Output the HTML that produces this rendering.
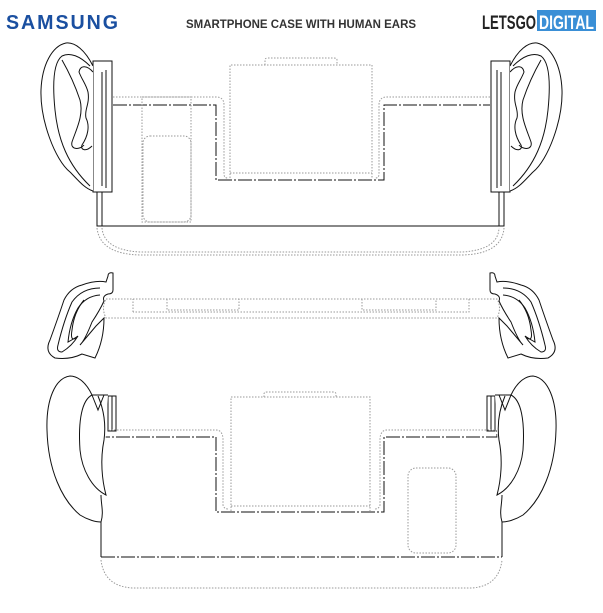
<!DOCTYPE html>
<html><head><meta charset="utf-8"><style>
html,body{margin:0;padding:0;background:#fff;}
svg{display:block}
</style></head><body>
<svg width="603" height="613" viewBox="0 0 603 613" xmlns="http://www.w3.org/2000/svg">
<text x="6" y="29" font-family="Liberation Sans, sans-serif" font-weight="bold" font-size="20" fill="#1a4fa0" textLength="114" lengthAdjust="spacingAndGlyphs" letter-spacing="2">SAMSUNG</text>
<text x="186" y="28" font-family="Liberation Sans, sans-serif" font-weight="bold" font-size="12" fill="#333" textLength="230" lengthAdjust="spacingAndGlyphs">SMARTPHONE CASE WITH HUMAN EARS</text>
<text x="482" y="29" font-family="Liberation Sans, sans-serif" font-weight="bold" font-size="19" fill="#222" textLength="54" lengthAdjust="spacingAndGlyphs">LETSGO</text>
<rect x="537" y="10" width="59" height="21" fill="#3a8fd6"/>
<text x="539" y="29" font-family="Liberation Sans, sans-serif" font-weight="bold" font-size="19" fill="#fff" textLength="55" lengthAdjust="spacingAndGlyphs">DIGITAL</text>

<g fill="none" stroke="#111" stroke-width="1">
<path d="M113,105 H216 V180 H384 V105 H490" stroke-dasharray="14,2,2,2"/>
<path d="M97,189 V226 H504 V189 M102,189 V226 M499,189 V226"/>
<g id="earT">
<rect x="93" y="61" width="19" height="131" fill="#fff"/>
<path d="M102,72 V186 M106,70 V188"/>
<path d="M93,66 C85,50 75,42 66,43 C52,46 42,65 41,90 C40,120 55,160 70,172 C78,180 84,188 93,191" fill="#fff"/>
<path d="M90,66 C80,56 70,52 62,56 C54,62 52,80 55,110 C58,140 68,165 90,186"/>
<path d="M93,72 C86,64 80,66 79,72 C82,80 86,84 88,92 C90,104 84,110 86,118 C90,126 88,136 82,145 C80,150 86,152 92,146"/>
<path d="M62,60 C70,74 76,88 80,100 C84,115 76,130 72,142 C70,150 80,150 84,145"/>
</g>
<use href="#earT" transform="translate(603,0) scale(-1,1)"/>
</g>
<g fill="none" stroke="#999" stroke-width="1" stroke-dasharray="1.5,1.5">
<path d="M113,97 H216 Q224,97 224,105 V174 Q224,178 228,178"/>
<path d="M490,97 H387 Q379,97 379,105 V174 Q379,178 375,178"/>
<path d="M230,178 V65 H372 V178 M230,173 H372"/>
<path d="M265,65 V60 Q265,58 268,58 H334 Q337,58 337,60 V65"/>
<rect x="142" y="97" width="49" height="125"/>
<rect x="143" y="136" width="48" height="86" rx="7"/>
<path d="M97,228 Q100,254 140,255 H462 Q502,254 504,228"/>
<path d="M102,228 Q104,250 140,252 H462 Q498,250 499,228"/>
</g>

<g fill="none" stroke="#999" stroke-width="1" stroke-dasharray="1.5,1.5">
<path d="M106,299 H497 Q502,308 497,318 H106 Q101,308 106,299 Z"/>
<path d="M133,312 V299 M167,299 V310 H239 V299 M362,299 V310 H436 V299 M469,299 V312 H133"/>
</g>
<g fill="none" stroke="#111" stroke-width="1">
<g id="earM">
<path d="M108,276 Q108,272 113,273 V290 Q113,294 108,294 Q102,296 104,301 Q100,310 92,322 Q85,340 80,345 L96,326 L104,318 Q104,340 95,358 L82,354 Q70,360 55,358 Q44,352 50,340 Q58,318 64,300 Q70,288 82,285 Q96,280 106,282 Z" fill="#fff"/>
<path d="M100,288 Q82,288 72,302 Q64,320 58,345 Q56,352 62,352 Q72,346 78,336 Q72,340 68,342 Q70,322 78,308 Q86,296 100,295"/>
<path d="M84,300 Q74,312 72,330 Q70,342 76,338"/>
</g>
<use href="#earM" transform="translate(603,0) scale(-1,1)"/>
</g>

<g fill="none" stroke="#111" stroke-width="1">
<path d="M105,428 V437 H216 V512 H384 V437 H497 V428" stroke-dasharray="14,2,2,2"/>
<path d="M101,521 V557 M502,557 V521" />
<path d="M101,557 H502" stroke-dasharray="14,2,2,2"/>
<g id="earB">
<rect x="108" y="396" width="8" height="35" fill="#fff"/>
<path d="M112,396 V431"/>
<path d="M108,395 H92 C85,380 76,376 70,376 C55,378 46,400 47,430 C48,470 62,500 80,515 C88,520 96,522 101,522" fill="#fff"/>
<path d="M92,395 C82,400 78,420 80,450 C82,470 92,488 106,495 C102,480 100,460 104,440 C106,425 104,410 98,396"/>
<path d="M92,395 L98,410 L104,395 M101,495 C101,505 104,512 101,522"/>
</g>
<use href="#earB" transform="translate(603,0) scale(-1,1)"/>
</g>
<g fill="none" stroke="#999" stroke-width="1" stroke-dasharray="1.5,1.5">
<path d="M108,430 H216 Q222,430 223,438 V505 Q224,509 228,509"/>
<path d="M495,430 H387 Q381,430 380,438 V505 Q379,509 375,509"/>
<path d="M231,511 V397 H370 V511 M231,506 H370"/>
<path d="M264,397 V394 Q264,392 267,392 H333 Q336,392 336,394 V397"/>
<rect x="408" y="468" width="48" height="85" rx="8"/>
<path d="M101,560 Q104,586 132,588 H472 Q499,586 502,560"/>
</g>
</svg>
</body></html>
